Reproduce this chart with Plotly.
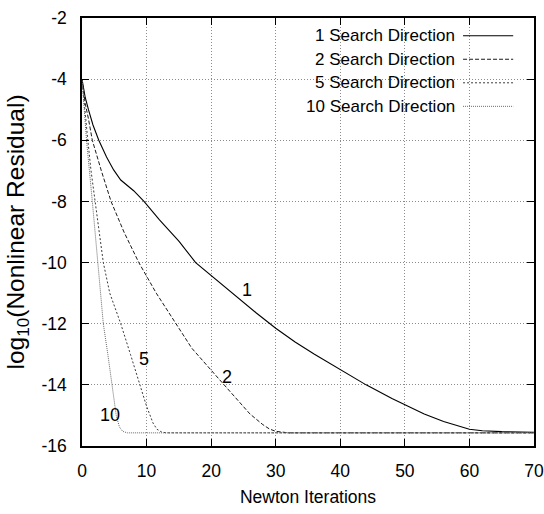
import plotly.graph_objects as go

# Convergence histories: log10 of nonlinear residual vs Newton iteration
x_1dir = [0, 0.5, 1, 1.7, 2.6, 3.8, 4.9, 6, 8, 9.6, 12, 15, 17.6, 19, 22, 25, 27, 30, 33, 36, 40, 44, 48, 50, 53, 56, 58, 60, 62, 65, 70]
y_1dir = [-4, -4.6, -5.0, -5.5, -6, -6.55, -6.97, -7.3, -7.65, -8, -8.6, -9.3, -10, -10.25, -10.78, -11.3, -11.65, -12.15, -12.6, -13.0, -13.5, -14.0, -14.45, -14.65, -14.95, -15.2, -15.33, -15.45, -15.5, -15.53, -15.55]

x_2dir = [0, 0.5, 1, 1.6, 3, 4.5, 6.5, 8.8, 11.5, 14.5, 17, 20, 22, 24, 26, 28, 29, 30, 32, 70]
y_2dir = [-4, -4.8, -5.3, -6, -7, -8, -9, -10, -11, -12, -12.8, -13.52, -14.0, -14.5, -14.95, -15.3, -15.44, -15.52, -15.57, -15.57]

x_5dir = [0, 0.4, 0.9, 1.4, 2.0, 2.7, 3.3, 4.3, 6.0, 7.5, 9.0, 10, 11, 11.6, 12.3, 13, 70]
y_5dir = [-4, -5, -6, -7, -8, -9, -10, -11, -12, -13, -14, -14.7, -15.25, -15.45, -15.54, -15.57, -15.57]

x_10dir = [0, 0.3, 0.7, 1.6, 2.5, 3.0, 3.3, 4.0, 4.7, 5.3, 5.8, 6.3, 7, 70]
y_10dir = [-4, -5, -6, -8, -10, -11.2, -12, -13, -14, -15, -15.38, -15.52, -15.57, -15.57]

series_names = ["1 Search Direction", "2 Search Direction", "5 Search Direction", "10 Search Direction"]
curve_tags = ["1", "2", "5", "10"]
tag_x = [25.6, 22.5, 9.6, 4.4]
tag_y = [-10.9, -13.74, -13.14, -15.0]

x_ticks = [0, 10, 20, 30, 40, 50, 60, 70]
y_ticks = [-16, -14, -12, -10, -8, -6, -4, -2]

FONT = "Liberation Sans, Arial, Helvetica, sans-serif"

styles = [
    dict(color="#000000", width=1.1, dash="solid"),
    dict(color="#1a1a1a", width=1.0, dash="4px,2px"),
    dict(color="#3a3a3a", width=1.0, dash="2px,2px"),
    dict(color="#6a6a6a", width=1.0, dash="1px,1px"),
]

fig = go.Figure()
for xs, ys, name, st in zip([x_1dir, x_2dir, x_5dir, x_10dir],
                            [y_1dir, y_2dir, y_5dir, y_10dir],
                            series_names, styles):
    fig.add_trace(go.Scatter(x=xs, y=ys, mode="lines", name=name,
                             line=dict(color=st["color"], width=st["width"], dash=st["dash"]),
                             showlegend=False))

# labels next to each curve
for t, tx, ty in zip(curve_tags, tag_x, tag_y):
    fig.add_annotation(x=tx, y=ty, text=t, showarrow=False,
                       font=dict(family=FONT, size=18, color="black"))

# key: text right-aligned with line sample on its right
key_rows_y = [0.9586, 0.9036, 0.8486, 0.7936]
shapes = [
    # blank area behind the key hides the grid there
    dict(type="rect", xref="paper", yref="paper", x0=0.401, x1=1, y0=0.78, y1=1,
         fillcolor="white", line=dict(width=0), layer="between"),
]
for name, st, ry in zip(series_names, styles, key_rows_y):
    fig.add_annotation(xref="paper", yref="paper", x=0.83, y=ry, text=name,
                       xanchor="right", yanchor="middle", showarrow=False,
                       font=dict(family=FONT, size=17, color="black"))
    shapes.append(dict(type="line", xref="paper", yref="paper", x0=0.843, x1=0.954,
                       y0=ry, y1=ry, line=dict(color=st["color"], width=st["width"], dash=st["dash"])))

axis_common = dict(
    showgrid=True, gridcolor="#8c8c8c", griddash="1px,2px", gridwidth=1,
    ticks="inside", ticklen=7, tickwidth=1, tickcolor="black",
    showline=True, linecolor="black", linewidth=1.5, mirror="ticks",
    zeroline=False, automargin=False,
    tickfont=dict(family=FONT, size=17.5, color="black"),
)

fig.update_layout(
    width=544, height=514,
    margin=dict(l=81.5, r=10, t=18, b=68),
    paper_bgcolor="white", plot_bgcolor="white",
    shapes=shapes,
    xaxis=dict(range=[0, 70], tickvals=x_ticks, ticktext=[str(v) for v in x_ticks],
               ticklabelstandoff=8,
               title=dict(text="Newton Iterations", font=dict(family=FONT, size=17.5, color="black"), standoff=11),
               **axis_common),
    yaxis=dict(range=[-16, -2], tickvals=y_ticks, ticktext=[str(v) for v in y_ticks],
               ticklabelstandoff=10,
               title=dict(text="log<sub>10</sub>(Nonlinear Residual)", font=dict(family=FONT, size=24.5, color="black"), standoff=10),
               **axis_common),
)

fig.write_html("out.html")
